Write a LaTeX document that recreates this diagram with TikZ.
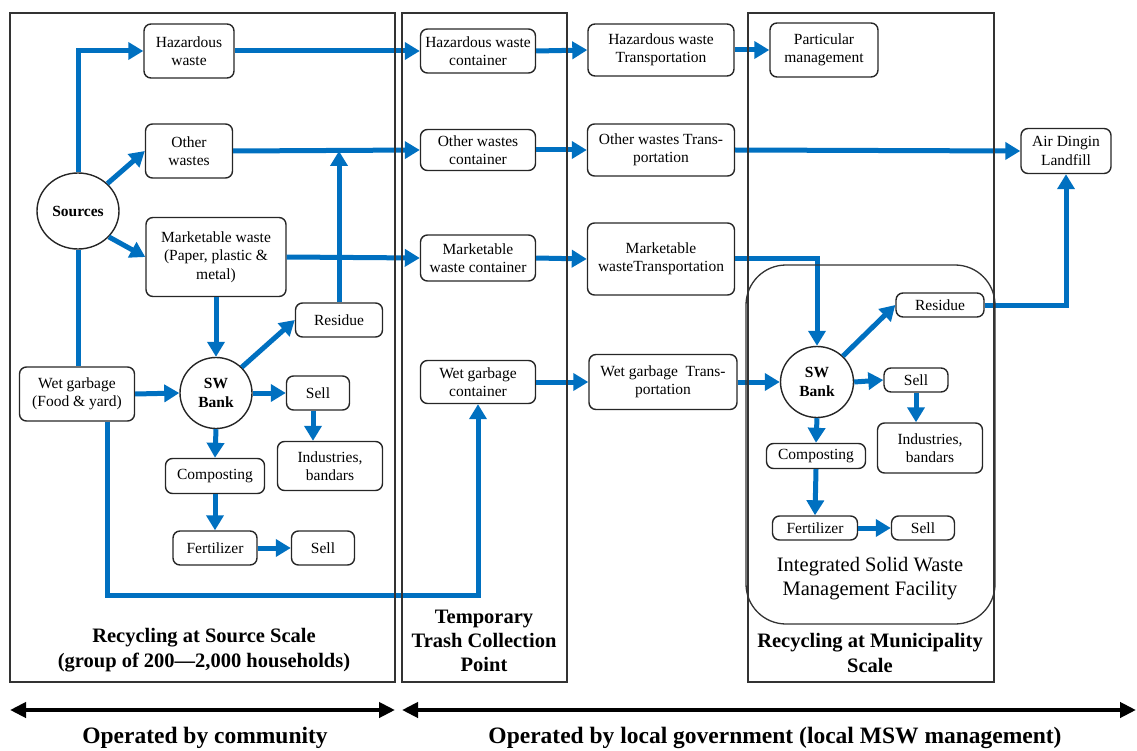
\documentclass[tikz,border=0pt]{standalone}
\usepackage{fontspec}
\setmainfont{Liberation Serif}
\usetikzlibrary{arrows.meta,shapes.geometric}
\definecolor{flowblue}{RGB}{0,112,192}
\newcommand\nodefont{\fontsize{15.5}{18.5}\selectfont}
\newcommand\titlefont{\fontsize{20.5}{24.3}\selectfont\bfseries}
\begin{document}
\begin{tikzpicture}[x=1pt,y=-1pt,
  box/.style={draw=black!85, rounded corners=7pt, line width=1.4pt, align=center, inner sep=0pt, font=\nodefont},
  circ/.style={draw=black!85, ellipse, line width=1.4pt, align=center, inner sep=0pt, font=\nodefont\bfseries},
  flow/.style={line width=5pt, draw=flowblue, -{Triangle[length=15pt,width=17pt]}},
  plain/.style={line width=5pt, draw=flowblue},
  panel/.style={draw=black!80, line width=1.3pt},
  title/.style={align=center, font=\titlefont, inner sep=0pt},
  span/.style={line width=4pt, draw=black, {Triangle[length=16pt,width=15pt]}-{Triangle[length=16pt,width=15pt]}}]
\useasboundingbox (0,0) rectangle (1137,751);

% left panel nodes
\node[box, minimum width=90pt, minimum height=54pt] (haz) at (189,51) {Hazardous\\waste};
\node[box, minimum width=87pt, minimum height=54pt] (oth) at (189,151) {Other\\wastes};
\node[circ, minimum width=82pt, minimum height=76pt] (src) at (78,211) {Sources};
\node[box, minimum width=140pt, minimum height=79pt] (mkt) at (216,257) {Marketable waste\\(Paper, plastic \&\\metal)};
\node[box, minimum width=87pt, minimum height=34pt] (res) at (339,320) {Residue};
\node[box, minimum width=115pt, minimum height=54pt] (wet) at (77,394) {Wet garbage\\(Food \& yard)};
\node[circ, minimum width=72pt, minimum height=71pt] (swb) at (216,393) {SW\\Bank};
\node[box, minimum width=63pt, minimum height=34pt] (sella) at (318,393) {Sell};
\node[box, minimum width=105pt, minimum height=49pt] (inda) at (330,466) {Industries,\\bandars};
\node[box, minimum width=99pt, minimum height=35pt] (compa) at (215,476) {Composting};
\node[box, minimum width=84pt, minimum height=34pt] (ferta) at (215,548) {Fertilizer};
\node[box, minimum width=63pt, minimum height=34pt] (sellb) at (323,548) {Sell};
\node[title] (ttla) at (204,650) {Recycling at Source Scale\\(group of 200—2,000 households)};

% middle panel nodes
\node[box, minimum width=115pt, minimum height=44pt] (hazc) at (478,51) {Hazardous waste\\container};
\node[box, minimum width=115pt, minimum height=41pt] (othc) at (478,150) {Other wastes\\container};
\node[box, minimum width=115pt, minimum height=46pt] (mktc) at (478,258) {Marketable\\waste container};
\node[box, minimum width=115pt, minimum height=43pt] (wetc) at (478,382) {Wet garbage\\container};
\node[title] (ttlb) at (484,641) {Temporary\\Trash Collection\\Point};

% transport nodes
\node[box, minimum width=146pt, minimum height=52pt] (hazt) at (661,50) {Hazardous waste\\Transportation};
\node[box, minimum width=147pt, minimum height=52pt] (otht) at (661,150) {Other wastes Trans-\\portation};
\node[box, minimum width=147pt, minimum height=72pt] (mktt) at (661,259) {Marketable\\wasteTransportation};
\node[box, minimum width=148pt, minimum height=55pt] (wett) at (663,382) {Wet garbage\ \ Trans-\\portation};

% right panel nodes
\node[box, minimum width=108pt, minimum height=54pt] (part) at (824,50) {Particular\\management};
\node[box, minimum width=90pt, minimum height=45pt] (air) at (1066,151) {Air Dingin\\Landfill};
\node[box, minimum width=88pt, minimum height=24pt] (resb) at (940,305) {Residue};
\node[circ, minimum width=73pt, minimum height=71pt] (swbb) at (817,382) {SW\\Bank};
\node[box, minimum width=64pt, minimum height=24pt] (sellc) at (916,380) {Sell};
\node[box, minimum width=105pt, minimum height=50pt] (indb) at (930,448) {Industries,\\bandars};
\node[box, minimum width=99pt, minimum height=25pt] (compb) at (816,456) {Composting};
\node[box, minimum width=85pt, minimum height=24pt] (fertb) at (815,528) {Fertilizer};
\node[box, minimum width=63pt, minimum height=24pt] (selld) at (923,528) {Sell};
\node[align=center, inner sep=0pt, font=\fontsize{20.5}{24}\selectfont] (isw) at (870,579) {Integrated Solid Waste\\Management Facility};
\node[title] (ttlc) at (870,653) {Recycling at Municipality\\Scale};

% flows, left panel
\draw[flow] (src.north) |- (haz.west);
\draw[flow] (src.43) -- (oth.west);
\draw[flow] (src.-40) -- (mkt.west);
\draw[plain] (src.south) -- (wet.north -| src.south);
\draw[flow] (mkt.south) -- (swb.north);
\draw[flow] (swb.45) -- (res.west);
\draw[flow] (res.north) -- (res.north |- oth.east);
\draw[flow] (wet.east) -- (swb.west);
\draw[flow] (swb.east) -- (sella.west);
\draw[flow] ([xshift=-5pt]sella.south) -- ([xshift=-5pt]sella.south |- inda.north);
\draw[flow] (swb.south) -- (compa.north);
\draw[flow] (compa.south) -- (ferta.north);
\draw[flow] (ferta.east) -- (sellb.west);
\coordinate (wl) at (107,595);
\draw[flow] (wet.south -| wl) -- (wl) -| (wetc.south);

% flows to containers
\draw[flow] (haz.east) -- (hazc.west);
\draw[flow] (oth.east) -- (othc.west);
\draw[flow] (mkt.east) -- (mktc.west);

% containers to transport
\draw[flow] (hazc.east) -- (hazt.west);
\draw[flow] (othc.east) -- (otht.west);
\draw[flow] (mktc.east) -- (mktt.west);
\draw[flow] (wetc.east) -- (wett.west);

% transport onward
\draw[flow] (hazt.east) -- (part.west);
\draw[flow] (otht.east) -- (air.west);
\draw[flow] (mktt.east) -| (swbb.north);
\draw[flow] (wett.east) -- (swbb.west);

% right facility
\draw[flow] (swbb.45) -- (resb.west);
\draw[flow] (swbb.east) -- (sellc.west);
\draw[flow] (sellc.south) -- (sellc.south |- indb.north);
\draw[flow] (swbb.south) -- (compb.north);
\draw[flow] (compb.south) -- (fertb.north);
\draw[flow] (fertb.east) -- (selld.west);
\draw[flow] (resb.east) -| (air.south);

% panels (drawn over the flows)
\draw[panel] (10,13) rectangle (395,682);
\draw[panel] (402,13) rectangle (567,682);
\draw[panel] (748,13) rectangle (994,682);
\draw[panel, rounded corners=40pt] (746,265) rectangle (995,624);

% bottom spans
\coordinate (sa1) at (10,710);
\coordinate (sa2) at (395,710);
\coordinate (sb1) at (402,710);
\coordinate (sb2) at (1136,710);
\draw[span] (sa1) -- (sa2);
\draw[span] (sb1) -- (sb2);
\node[font=\fontsize{23.5}{28}\selectfont\bfseries, inner sep=0pt] (opa) at (205,738) {Operated by community};
\node[font=\fontsize{23.5}{28}\selectfont\bfseries, inner sep=0pt] (opb) at (775,738) {Operated by local government (local MSW management)};
\end{tikzpicture}
\end{document}
